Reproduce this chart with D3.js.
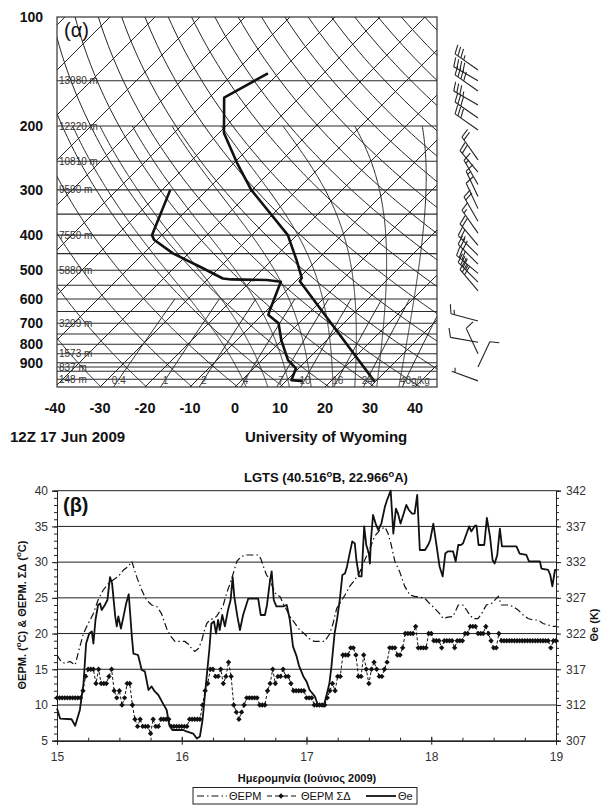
<!DOCTYPE html>
<html><head><meta charset="utf-8">
<script src="https://cdn.jsdelivr.net/npm/d3@7"></script>
<style>
body{margin:0;background:#fff}
svg{display:block}
text{font-family:Arial,"Liberation Sans",sans-serif}
</style></head>
<body><svg id="c" width="602" height="805"></svg>
<script>
// ---------------- DATA: skew-T (panel α) ----------------
const pressureTicks = [100,200,300,400,500,600,700,800,900];
const isobarLevels = [150,200,250,300,350,400,450,500,550,600,650,700,750,800,850,900,925,950,1000];
const heightLabelP = [150,200,250,300,400,500,700,850,925,1000];
const heightLabelText = ["13980 m","12220 m","10810 m","9590 m","7550 m","5880 m","3209 m","1573 m","837 m","148 m"];
const tempTicks = [-40,-30,-20,-10,0,10,20,30,40];
const isotherms = [-130,-120,-110,-100,-90,-80,-70,-60,-50,-40,-30,-20,-10,0,10,20,30,40];
const dryAdiabatTheta = [230,240,250,260,270,280,290,300,310,320,330,340,350,360,370,380,390,400,410,420,430,440,450,460];
const moistAdiabatT1000 = [0,5,10,15,20,25,30,35];
const mixingRatios = [0.4,1,2,4,7,10,16,24,40];
const mixingLabels = ["0.4","1","2","4","7","10","16","24","40g/kg"];
// sounding (hPa, °C)
const tempP  = [1016, 536, 525, 469, 400, 300, 253, 209, 167, 143];
const tempC  = [29.9, -9.1, -9.4, -14.5, -22.0, -40.2, -49.3, -58.9, -66.7, -62.4];
const dewP   = [1012, 1005, 933, 885, 780, 700, 664, 651, 538, 532, 530, 527, 489, 474, 449, 412, 400, 300];
const dewC   = [13.8, 11.0, 9.4, 5.8, -0.1, -4.5, -8.6, -9.1, -13.2, -16.7, -24.7, -26.8, -34.5, -37.8, -43.5, -50.7, -52.2, -58.2];
// wind barbs
const windP   = [140,150,160,175,190,205, 248,268,290,313,338,366,395,427,455,481,510,539,570, 690,790,850,925,1010];
const windDir = [305,300,305,300,305,305, 325,320,330,335,335,330,325,320,315,315,310,315,320, 285,280,335,25,290];
const windKt  = [35,40,40,35,30,30, 20,20,15,15,10,20,15,20,25,30,35,35,30, 15,10,10,10,5];

// ---------------- DATA: time series (panel β) ----------------
const dayTicks = [15,16,17,18,19];
const leftTicks = [5,10,15,20,25,30,35,40];
const rightTicks = [307,312,317,322,327,332,337,342];
// ΘΕΡΜ (°C), hours after 15 Jun 00 UTC
const tempHours = [0,0.6,1.5,2.5,3.5,4.4,5.1,6,7,7.9,8.9,9.9,10.8,11.8,12.8,13.7,14.4,15.3,16.3,17.2,18.2,19.2,20.1,21.1,21.9,22.7,23.7,24.6,25.3,25.9,26.5,27.2,27.8,28.3,28.8,29.4,30.1,30.7,31.3,32,32.6,33.3,33.9,34.6,35.5,36.5,37.8,38.7,39.2,39.7,40.3,41,41.6,42.2,42.9,43.5,44.2,44.8,45.8,46.7,47.7,48.5,49.5,50.6,51.5,52.5,53.1,53.8,54.4,55.4,56.3,57.3,58.3,59.2,60.2,61.1,62.1,63.1,63.7,64.3,65,65.9,66.9,67.9,68.8,69.8,70.8,71.7,72.7,73.6,74.3,75.2,76.2,77.2,78.1,78.8,79.4,80.1,81,81.7,82.6,83.6,84.9,85.5,86.8,87.7,88.7,89.7,90.6,91.6,92.6,93.5,94.5,95.4,96];
const tempVals = [17.0,16.3,15.8,16.1,15.6,18.2,20.0,21.4,22.8,24.7,26.1,27.0,27.5,28.0,28.9,29.4,30.1,28.0,26.1,24.7,24.0,23.8,22.8,20.7,19.6,18.9,18.9,18.9,18.5,17.9,17.5,17.9,18.9,20.3,21.4,21.9,22.1,22.4,23.1,24.0,25.6,27.0,28.4,30.1,30.8,31.0,31.0,31.0,30.5,29.4,28.2,27.5,26.3,25.4,25.2,24.2,23.3,22.4,21.4,20.5,19.9,19.3,18.9,18.9,18.9,20.0,21.4,23.5,24.2,25.4,26.6,27.5,28.7,30.3,31.9,33.6,34.5,34.9,34.0,32.4,30.1,28.7,26.6,25.4,25.2,25.1,24.9,24.2,23.5,22.8,22.1,22.3,22.4,24.0,24.0,23.3,22.6,22.1,22.1,22.8,24.0,24.2,25.2,24.0,24.0,23.8,23.3,22.6,22.1,21.9,21.9,21.4,21.2,21.0,21.0];
// ΘΕΡΜ ΣΔ (°C), half-hourly from 15 Jun 00 UTC
const dewHalfHourly = [
11,11,11,11,11,11,11,11,11,11,
12,14,15,15,15,13,15,13,13,13,
14,15,12,11,12,10,11,13,13,10,
8,7,8,7,7,7,6,8,7,7,
8,8,8,8,7,7,7,7,7,7,
7,8,8,8,8,8,10,12,13,15,
15,14,14,15,13,14,16,14,10,9,
8,9,10,11,11,11,11,11,10,10,
10,12,13,15,13,14,14,15,14,14,
13,12,12,12,12,12,11,11,11,10,
10,10,10,10,11,12,13,12,14,14,
17,17,17,18,18,17,14,14,17,15,
13,15,16,15,14,14,15,16,18,18,
18,17,17,18,20,20,20,20,21,18,
18,18,18,20,20,19,19,19,18,19,
19,19,19,18,19,19,19,20,20,21,
21,21,20,20,20,21,20,19,18,18,
20,19,19,19,19,19,19,19,19,19,
19,19,19,19,19,19,19,19,19,19,
18,19,19];
// Θe (K)
const thetaHours = [0,0.6,2.8,3.5,4.4,5.1,5.6,6.2,6.7,7.0,7.4,7.9,8.3,8.6,9.2,9.7,10.2,10.6,11.2,11.5,11.8,12.3,12.8,13.3,13.8,14.4,14.7,15.6,16.3,16.9,17.6,18.2,18.8,19.5,20.4,21.1,21.6,22.2,24.3,24.9,26.2,26.9,27.5,28.0,28.3,28.8,29.3,29.7,30.2,30.6,31.0,31.3,31.8,32.3,32.9,33.4,33.8,34.1,34.7,35.2,35.8,36.8,38.7,39.2,40.0,40.4,41.0,41.3,41.7,42.2,43.5,44.2,44.8,45.4,46.1,46.6,47.4,48.0,48.6,49.6,50.2,51.3,51.8,52.4,52.8,53.4,53.9,54.4,54.9,55.4,55.8,56.3,56.8,57.3,57.6,58.1,58.6,59.1,59.5,60.0,60.2,60.4,60.8,61.3,61.8,62.4,63.1,63.5,64.2,64.7,65.2,65.6,66.1,66.7,67.2,67.7,68.3,68.8,69.3,69.8,70.8,71.4,71.8,72.4,73.0,73.6,74.2,74.7,75.2,76.2,76.7,77.2,77.7,78.1,78.8,79.3,79.7,80.4,80.7,81.1,82.2,82.7,83.3,83.8,84.2,84.7,85.2,85.6,88.4,89.0,90.3,90.8,92.9,93.2,94.5,94.9,95.3,95.8,96];
const thetaVals = [311.5,310.1,310.0,309.1,311.3,315.0,320.6,322.0,322.3,320.6,323.9,326.0,326.2,325.3,326.0,326.7,329.9,329.0,324.4,323.0,324.4,322.7,324.4,326.2,327.5,321.6,319.2,319.0,316.9,316.7,314.1,314.6,313.9,313.4,312.2,311.3,309.2,308.5,308.5,308.3,308.0,307.3,307.6,309.9,312.2,316.0,319.7,323.4,323.7,322.0,323.9,322.5,324.6,323.0,325.3,326.7,329.9,327.2,324.4,322.5,324.6,326.9,326.9,324.6,324.6,326.0,329.5,330.7,326.7,325.8,325.8,326.0,323.9,320.2,318.8,317.4,316.0,315.3,314.1,313.2,312.0,311.8,313.2,315.0,317.4,322.0,324.1,326.7,330.2,330.4,331.4,333.2,334.9,334.6,332.3,330.0,330.0,337.0,334.4,333.2,331.8,335.1,338.6,337.4,336.5,337.4,339.8,340.7,342.0,336.0,339.5,338.8,337.4,338.8,340.0,339.3,338.8,338.8,341.4,333.7,333.7,334.4,335.1,337.4,334.4,331.4,330.0,333.2,333.5,333.5,332.1,334.4,334.4,334.6,336.0,337.0,336.3,337.1,337.1,334.4,334.4,338.2,335.6,332.3,331.8,333.0,336.7,334.2,334.2,333.2,333.0,332.1,332.1,331.1,330.9,330.2,328.6,330.9,330.9];

// ================= DRAW =================
const svg = d3.select("#c");

// ---------- Skew-T ----------
const ySk = d3.scaleLog().domain([100,1050]).range([17,387]);
const xSk = d3.scaleLinear().domain([-40,40]).range([55,415]);
const yBot = ySk(1050);
const sx = (T,p) => xSk(T) + (yBot - ySk(p));
const B = {x0:57,x1:437,y0:17,y1:387};

svg.append("defs").append("clipPath").attr("id","skclip")
  .append("rect").attr("x",B.x0).attr("y",B.y0).attr("width",B.x1-B.x0).attr("height",B.y1-B.y0);

const gSk = svg.append("g");
const gl = gSk.append("g").attr("clip-path","url(#skclip)");
const pLine = d3.line().x(d=>sx(d[1],d[0])).y(d=>ySk(d[0]));
const thin = sel => sel.attr("fill","none").attr("stroke","#262626").attr("stroke-width",1);

const pSamples = d3.range(1050,99,-5);

// isobars
gl.selectAll("line.iso").data(isobarLevels).join("line")
  .attr("x1",B.x0).attr("x2",B.x1).attr("y1",d=>ySk(d)).attr("y2",d=>ySk(d))
  .attr("stroke","#2a2a2a").attr("stroke-width",1.1);
// isotherms
gl.selectAll("path.it").data(isotherms).join("path")
  .attr("d",T=>pLine([[1050,T],[100,T]])).call(thin);
// dry adiabats
gl.selectAll("path.da").data(dryAdiabatTheta).join("path")
  .attr("d",th=>pLine(pSamples.map(p=>[p, th*Math.pow(p/1000,0.2857)-273.15]))).call(thin);
// moist adiabats
function moistDT(p,T){ // dT/dp K/hPa
  const Rd=287.04,cp=1005.7,L=2.501e6,eps=0.622;
  const Tc=T-273.15, es=6.112*Math.exp(17.67*Tc/(Tc+243.5)), rs=eps*es/(p-es);
  return (1/p)*(Rd*T+L*rs)/(cp+(L*L*rs*eps)/(Rd*T*T));
}
function moistPath(T0){
  const up=[]; let T=T0+273.15;
  for(let p=1000;p>=200;p-=2){ up.push([p,T-273.15]); T+=moistDT(p,T)*(-2); }
  const down=[]; T=T0+273.15;
  for(let p=1000;p<=1050;p+=2){ down.push([p,T-273.15]); T+=moistDT(p,T)*2; }
  return down.reverse().concat(up);
}
gl.selectAll("path.ma").data(moistAdiabatT1000).join("path")
  .attr("d",T0=>pLine(moistPath(T0))).call(thin);
// mixing ratio lines
const tdFromW=(w,p)=>{const e=w*p/(622+w); const l=Math.log(e/6.112); return 243.5*l/(17.67-l);};
gl.selectAll("path.mr").data(mixingRatios).join("path")
  .attr("d",w=>pLine(d3.range(1050,599,-10).map(p=>[p,tdFromW(w,p)]))).call(thin);
// sounding
gl.append("path").attr("d",pLine(tempP.map((p,i)=>[p,tempC[i]])))
  .attr("fill","none").attr("stroke","#111").attr("stroke-width",2.6).attr("stroke-linejoin","round");
gl.append("path").attr("d",pLine(dewP.map((p,i)=>[p,dewC[i]])))
  .attr("fill","none").attr("stroke","#111").attr("stroke-width",2.6).attr("stroke-linejoin","round");

// height labels
gSk.selectAll("text.hl").data(heightLabelP).join("text")
  .attr("x",59).attr("y",d=>ySk(d)+3.5).attr("font-size",10).attr("fill","#333")
  .text((d,i)=>heightLabelText[i]);
// mixing ratio labels
gSk.selectAll("text.ml").data(mixingRatios).join("text")
  .attr("x",(w,i)=>sx(tdFromW(w,1000),1000)+(i===8?-6:0))
  .attr("y",384).attr("font-size",10).attr("fill","#444")
  .attr("text-anchor",(w,i)=>i===8?"start":"middle")
  .text((w,i)=>mixingLabels[i]);
// frame
gSk.append("rect").attr("x",B.x0).attr("y",B.y0).attr("width",B.x1-B.x0).attr("height",B.y1-B.y0)
  .attr("fill","none").attr("stroke","#333").attr("stroke-width",1.2);
gSk.append("text").attr("x",64).attr("y",37).attr("font-size",20).attr("fill","#111").text("(α)");

// pressure labels
gSk.selectAll("text.pl").data(pressureTicks).join("text")
  .attr("x",43).attr("y",d=>ySk(d)+5).attr("text-anchor","end")
  .attr("font-size",14).attr("font-weight","bold").attr("fill","#111").text(d=>d);
// temperature labels
gSk.selectAll("text.tl").data(tempTicks).join("text")
  .attr("x",d=>xSk(d)).attr("y",413).attr("text-anchor","middle")
  .attr("font-size",14.5).attr("font-weight","bold").attr("fill","#111").text(d=>d);
gSk.append("text").attr("x",10).attr("y",442).attr("font-size",15).attr("font-weight","bold").attr("fill","#111").text("12Z 17 Jun 2009");
gSk.append("text").attr("x",245).attr("y",442).attr("font-size",15).attr("font-weight","bold").attr("fill","#111").text("University of Wyoming");

// wind barbs
const gW = svg.append("g").attr("stroke","#222").attr("stroke-width",1.1).attr("fill","none");
windP.forEach((p,i)=>{
  const x0=478, y0=ySk(p), dir=windDir[i]*Math.PI/180, L=28;
  const ux=Math.sin(dir), uy=-Math.cos(dir);
  const px=Math.cos(dir), py=Math.sin(dir);
  gW.append("line").attr("x1",x0).attr("y1",y0).attr("x2",x0+ux*L).attr("y2",y0+uy*L);
  let spd=windKt[i], pos=L;
  const full=Math.floor(spd/10), half=(spd%10)>=5?1:0;
  for(let k=0;k<full;k++){
    const bx=x0+ux*pos, by=y0+uy*pos;
    gW.append("line").attr("x1",bx).attr("y1",by).attr("x2",bx+px*9+ux*3).attr("y2",by+py*9+uy*3);
    pos-=3.5;
  }
  if(half){
    if(full===0) pos-=3.5;
    const bx=x0+ux*pos, by=y0+uy*pos;
    gW.append("line").attr("x1",bx).attr("y1",by).attr("x2",bx+px*4.5+ux*1.5).attr("y2",by+py*4.5+uy*1.5);
  }
});

// ---------- Time series ----------
const xB = d3.scaleLinear().domain([15,19]).range([57,556]);
const yL = d3.scaleLinear().domain([5,40]).range([740.7,490.7]);
const yR = d3.scaleLinear().domain([307,342]).range([740.7,490.7]);
const gT = svg.append("g");

// grid lines
gT.selectAll("line.gr").data(leftTicks.slice(1)).join("line")
  .attr("x1",57).attr("x2",556).attr("y1",d=>yL(d)).attr("y2",d=>yL(d))
  .attr("stroke","#222").attr("stroke-width",1);

// axes
const styleAxis = g => { g.select(".domain").attr("stroke","#222"); g.selectAll(".tick line").attr("stroke","#222"); g.selectAll("text").attr("font-size",12).attr("fill","#333").attr("font-family","Arial,'Liberation Sans',sans-serif"); };
gT.append("g").attr("transform","translate(57,0)")
  .call(d3.axisLeft(yL).tickValues(d3.range(5,41,1)).tickSize(3).tickFormat(""))
  .call(styleAxis);
gT.append("g").attr("transform","translate(57,0)")
  .call(d3.axisLeft(yL).tickValues(leftTicks).tickSize(5).tickPadding(4))
  .call(styleAxis);
gT.append("g").attr("transform","translate(556,0)")
  .call(d3.axisRight(yR).tickValues(d3.range(307,343,1)).tickSize(3).tickFormat(""))
  .call(styleAxis);
gT.append("g").attr("transform","translate(556,0)")
  .call(d3.axisRight(yR).tickValues(rightTicks).tickSize(5).tickPadding(5))
  .call(styleAxis);
gT.append("g").attr("transform","translate(0,740.7)")
  .call(d3.axisTop(xB).tickValues(d3.range(15,19.01,0.25)).tickSize(3).tickFormat(""))
  .call(styleAxis);
gT.append("g").attr("transform","translate(0,740.7)")
  .call(d3.axisBottom(xB).tickValues(dayTicks).tickSize(4).tickPadding(8).tickFormat(d3.format("d")))
  .call(styleAxis);
gT.append("g").attr("transform","translate(0,740.7)")
  .call(d3.axisTop(xB).tickValues(dayTicks).tickSize(4).tickFormat(""))
  .call(styleAxis);

// series
const tLine = d3.line().x(d=>xB(15+d[0]/24)).y(d=>yL(d[1]));
gT.append("path").attr("d",tLine(tempHours.map((h,i)=>[h,tempVals[i]])))
  .attr("fill","none").attr("stroke","#111").attr("stroke-width",1.2).attr("stroke-dasharray","7,3,1.5,3");
const dewPts = dewHalfHourly.map((v,i)=>[i/2,v]);
gT.append("path").attr("d",tLine(dewPts))
  .attr("fill","none").attr("stroke","#111").attr("stroke-width",1).attr("stroke-dasharray","3,2");
const diamond = "M0,-2.7L2.7,0L0,2.7L-2.7,0Z";
gT.selectAll("path.dm").data(dewPts).join("path")
  .attr("d",diamond).attr("fill","#111")
  .attr("transform",d=>`translate(${xB(15+d[0]/24)},${yL(d[1])})`);
gT.append("path").attr("d",d3.line().x((h)=>xB(15+h/24)).y((h,i)=>yR(thetaVals[i]))(thetaHours))
  .attr("fill","none").attr("stroke","#111").attr("stroke-width",1.8).attr("stroke-linejoin","round");

// labels with superscript "o"
function rich(sel, parts){
  let shift = 0;
  parts.forEach(([t,sup])=>{
    const ts = sel.append("tspan").text(t);
    if(sup){ ts.attr("dy",-5).attr("font-size","0.72em"); shift = 5; }
    else if(shift){ ts.attr("dy",shift); shift = 0; }
  });
}
gT.append("text").attr("x",326).attr("y",482).attr("text-anchor","middle")
  .attr("font-size",13).attr("font-weight","bold").attr("fill","#111")
  .call(s=>rich(s,[["LGTS (40.516"],["o",1],["B, 22.966"],["o",1],["A)"]]));
gT.append("text").attr("x",63).attr("y",512).attr("font-size",20).attr("font-weight","bold").attr("fill","#111").text("(β)");
gT.append("text").attr("transform","translate(26,615) rotate(-90)").attr("text-anchor","middle")
  .attr("font-size",11).attr("font-weight","bold").attr("fill","#111")
  .call(s=>rich(s,[["ΘΕΡΜ. ("],["o",1],["C) & ΘΕΡΜ. ΣΔ ("],["o",1],["C)"]]));
gT.append("text").attr("transform","translate(598,625) rotate(-90)").attr("text-anchor","middle")
  .attr("font-size",11).attr("font-weight","bold").attr("fill","#111").text("Θe (K)");
gT.append("text").attr("x",307).attr("y",782).attr("text-anchor","middle")
  .attr("font-size",11).attr("font-weight","bold").attr("fill","#111").text("Ημερομηνία (Ιούνιος 2009)");

// legend
const lg = gT.append("g");
lg.append("rect").attr("x",193).attr("y",787.5).attr("width",224).attr("height",16.5)
  .attr("fill","#fff").attr("stroke","#222").attr("stroke-width",1);
lg.append("line").attr("x1",197).attr("x2",227).attr("y1",796).attr("y2",796)
  .attr("stroke","#111").attr("stroke-width",1.2).attr("stroke-dasharray","7,3,1.5,3");
lg.append("text").attr("x",229).attr("y",800).attr("font-size",11).attr("fill","#111").text("ΘΕΡΜ");
lg.append("line").attr("x1",267).attr("x2",299).attr("y1",796).attr("y2",796)
  .attr("stroke","#111").attr("stroke-width",1.2).attr("stroke-dasharray","5,3");
lg.append("path").attr("d",diamond).attr("fill","#111").attr("transform","translate(281,796)");
lg.append("text").attr("x",301).attr("y",800).attr("font-size",11).attr("fill","#111").text("ΘΕΡΜ ΣΔ");
lg.append("line").attr("x1",366).attr("x2",396).attr("y1",796).attr("y2",796)
  .attr("stroke","#111").attr("stroke-width",1.8);
lg.append("text").attr("x",398).attr("y",800).attr("font-size",11).attr("fill","#111").text("Θe");
</script>
</body></html>
